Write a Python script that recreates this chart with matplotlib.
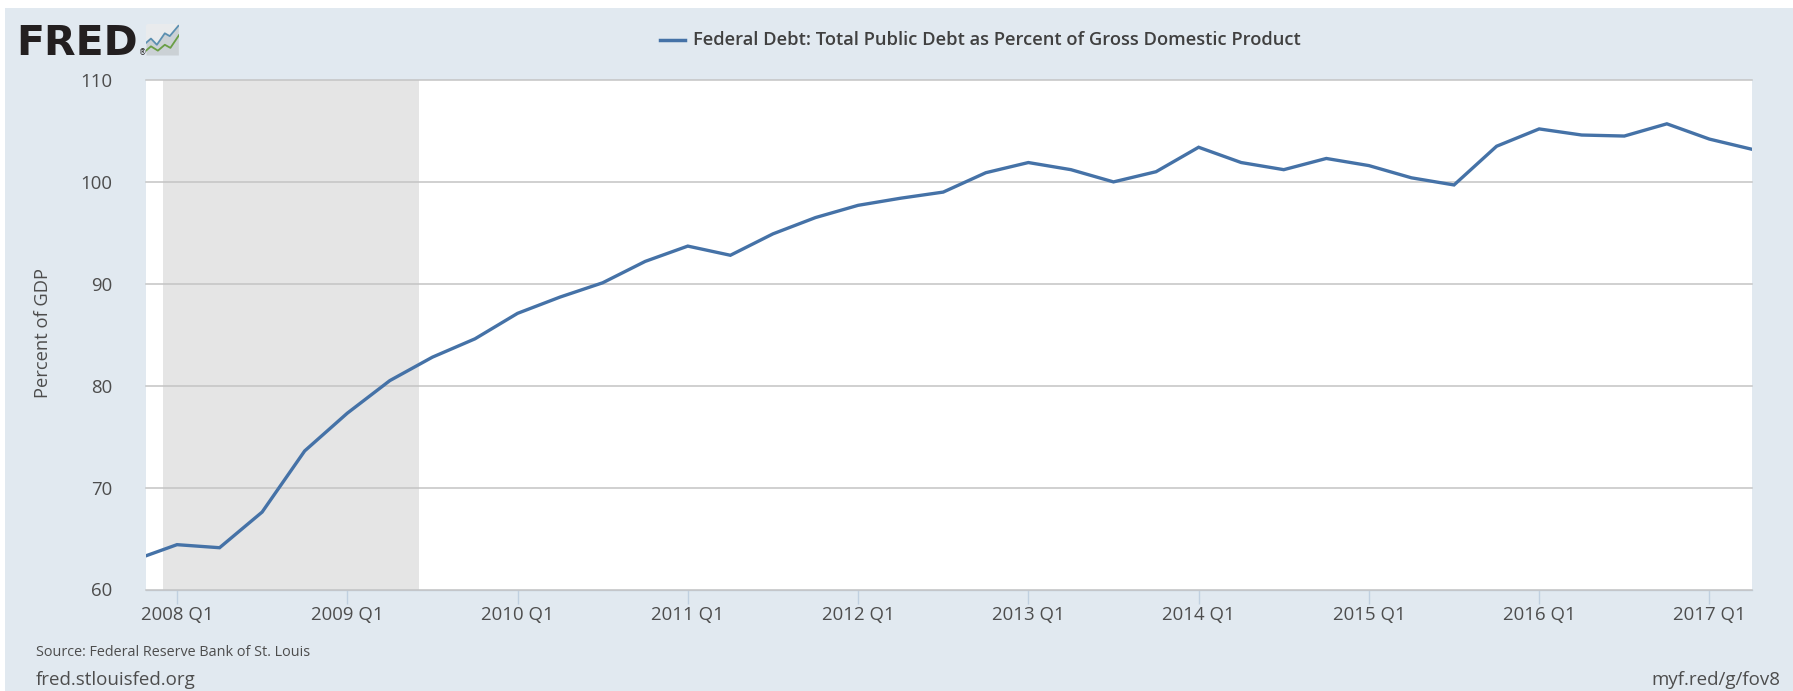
import matplotlib

matplotlib.use("Agg")
from matplotlib import pyplot as plt
from matplotlib.patches import FancyBboxPatch, Rectangle

WIDTH, HEIGHT = 1793, 691

# quarters counted from 2008 Q1, the first value is 2007 Q4
debt_pct = [
    62.9,
    64.4, 64.1, 67.6, 73.6,
    77.3, 80.5, 82.8, 84.6,
    87.1, 88.7, 90.1, 92.2,
    93.7, 92.8, 94.9, 96.5,
    97.7, 98.4, 99.0, 100.9,
    101.9, 101.2, 100.0, 101.0,
    103.4, 101.9, 101.2, 102.3,
    101.6, 100.4, 99.7, 103.5,
    105.2, 104.6, 104.5, 105.7,
    104.2, 103.2,
]
quarters = list(range(-1, len(debt_pct) - 1))
year_ticks = [0, 4, 8, 12, 16, 20, 24, 28, 32, 36]
year_labels = [f"{2008 + i} Q1" for i in range(10)]
y_ticks = [60, 70, 80, 90, 100, 110]
recession = (-0.32, 5.69)

# little chart in the logo
icon_x_blue = [0.0, 0.15, 0.33, 0.57, 0.72, 0.98]
icon_y_blue = [0.39, 0.53, 0.33, 0.70, 0.61, 0.94]
icon_x_green = [0.0, 0.15, 0.36, 0.57, 0.74, 1.0]
icon_y_green = [0.14, 0.28, 0.14, 0.33, 0.23, 0.64]

LINE = "#4572a7"
BG = "#e1e9f0"
TEXT = "#4d4d4d"
FONT = "Open Sans"


def fx(px):
    return px / WIDTH


def fy(px):
    return 1 - px / HEIGHT


fig = plt.figure(figsize=(WIDTH / 100, HEIGHT / 100), dpi=100, facecolor="white")
fig.patches.append(Rectangle((fx(5), 0), 1 - fx(5), fy(8), transform=fig.transFigure,
                             facecolor=BG, edgecolor="none", zorder=-5))

ax = fig.add_axes([fx(146), fy(589.5), fx(1752 - 146), fy(80) - fy(589.5)])
ax.set_xlim(-0.728, 37.0)
ax.set_ylim(60, 110)
ax.set_facecolor("white")
ax.axvspan(*recession, color="#e5e5e5", lw=0, zorder=1)
ax.plot(quarters, debt_pct, color=LINE, lw=2.4, zorder=3, solid_joinstyle="miter")

for spine in ["left", "right", "top"]:
    ax.spines[spine].set_visible(False)
ax.spines["bottom"].set_color("#c0d0e0")
ax.spines["bottom"].set_linewidth(1.0)
ax.grid(axis="y", color="#c4c4c4", lw=1.1, zorder=2)
ax.set_axisbelow(False)
ax.set_yticks(y_ticks)
ax.set_xticks(year_ticks, year_labels)
ax.tick_params(axis="y", length=0, pad=24, labelsize=13.4, labelcolor=TEXT)
ax.tick_params(axis="x", length=10, width=1, color="#c0d0e0", pad=2, labelsize=13.4, labelcolor=TEXT)
for label in ax.get_xticklabels() + ax.get_yticklabels():
    label.set_fontfamily(FONT)
for gridline in ax.get_ygridlines():
    gridline.set_clip_on(False)
fig.text(fx(42.5), fy(333), "Percent of GDP", fontsize=13.2, color=TEXT, family=FONT,
         rotation=90, ha="center", va="center")

# legend, drawn by hand to sit centred in the header
fig.add_artist(plt.Line2D([fx(660), fx(685)], [fy(40), fy(40)], color=LINE, lw=2.5))
fig.text(fx(693), fy(40), "Federal Debt: Total Public Debt as Percent of Gross Domestic Product",
         fontsize=13.28, fontweight="semibold", color="#404040", family=FONT, va="center")

# logo
fig.text(fx(16.5), fy(55), "FRED", fontsize=29.5, fontweight="bold", color="#231f20",
         family="DejaVu Sans", va="baseline")
fig.text(fx(139), fy(55.5), "®", fontsize=5.5, color="#231f20", family="DejaVu Sans", va="baseline")
icon = fig.add_axes([fx(146), fy(55), fx(33), fy(24) - fy(55)])
icon.set_xlim(0, 1)
icon.set_ylim(0, 1)
icon.axis("off")
icon.add_patch(FancyBboxPatch((0, 0), 1, 1, boxstyle="round,pad=0,rounding_size=0.06",
                              facecolor="#e9ebed", edgecolor="none"))
icon.fill_between(icon_x_blue, icon_y_blue, 0, color="#cbd1d5", lw=0)
icon.plot(icon_x_blue, icon_y_blue, color="#5b8fb0", lw=1.3)
icon.plot(icon_x_green, icon_y_green, color="#6a9e45", lw=1.3)

# footer
fig.text(fx(36), fy(653), "Source: Federal Reserve Bank of St. Louis", fontsize=10.4,
         color=TEXT, family=FONT, va="center")
fig.text(fx(36), fy(680), "fred.stlouisfed.org", fontsize=13.5, color=TEXT, family=FONT, va="center")
fig.text(fx(1780), fy(680), "myf.red/g/fov8", fontsize=13.5, color=TEXT, family=FONT,
         va="center", ha="right")

fig.savefig("out.png", dpi=100, facecolor="white")
plt.close(fig)
